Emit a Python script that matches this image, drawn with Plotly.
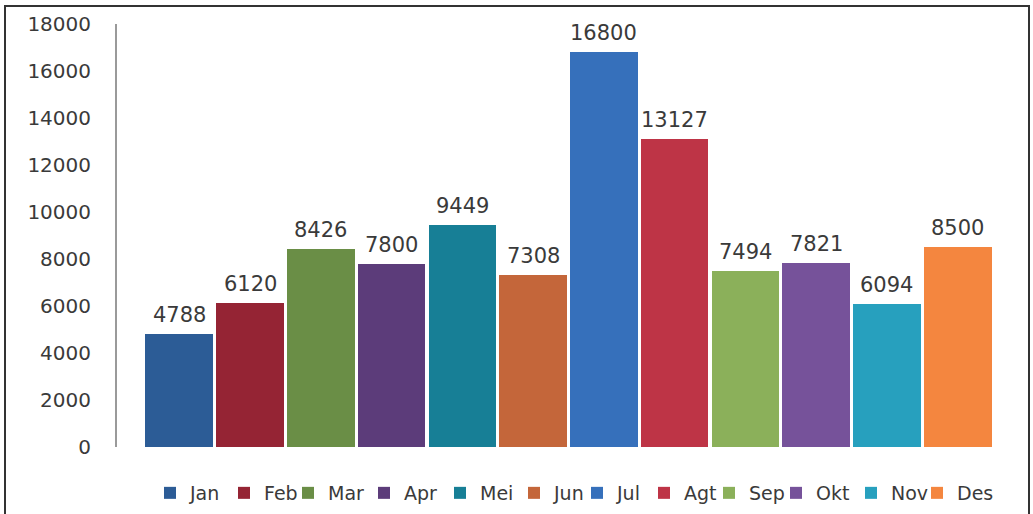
import plotly.graph_objects as go

# Monthly totals
months = ["Jan", "Feb", "Mar", "Apr", "Mei", "Jun",
          "Jul", "Agt", "Sep", "Okt", "Nov", "Des"]
values = [4788, 6120, 8426, 7800, 9449, 7308,
          16800, 13127, 7494, 7821, 6094, 8500]
colors = ["#2C5C96", "#952434", "#6A8E46", "#5C3C7A", "#177F96", "#C4663A",
          "#3670BB", "#BE3446", "#8BB05A", "#76529A", "#27A0BE", "#F4863F"]
y_ticks = [0, 2000, 4000, 6000, 8000, 10000, 12000, 14000, 16000, 18000]

# per-entry legend widths (px) so the legend row keeps its spacing
legend_widths = [29, 19, 31, 31, 29, 18, 22, 20, 22, 30, 21, 40]

FONT = "DejaVu Sans"
TEXT_COLOR = "#3a3a3a"

# page geometry (px) used for the plot area and the outer frame
W, H = 1033, 514
M_L, M_R, M_T, M_B = 117, 13, 24, 67
plot_w = W - M_L - M_R
plot_h = H - M_T - M_B


def px_x(p):
    return (p - M_L) / plot_w


def px_y(p):
    return (H - M_B - p) / plot_h


fig = go.Figure()
for i, (m, v, c, lw) in enumerate(zip(months, values, colors, legend_widths)):
    fig.add_trace(go.Bar(
        x=[i], y=[v], name=m, width=0.955,
        marker=dict(color=c, line=dict(width=0)),
        legendwidth=lw,
        hoverinfo="name+y",
    ))
    fig.add_annotation(
        x=i, y=v, text=str(v), showarrow=False,
        yanchor="bottom", yshift=5,
        font=dict(family=FONT, size=21, color=TEXT_COLOR),
    )

# outer frame around the whole chart
fig.add_shape(
    type="rect", xref="paper", yref="paper",
    x0=px_x(5), x1=px_x(1029), y0=px_y(530), y1=px_y(6),
    line=dict(color="#333333", width=2), fillcolor="rgba(0,0,0,0)",
    layer="above",
)

legend_w = sum(legend_widths) + 45 * len(legend_widths) + 4

fig.update_layout(
    width=W, height=H,
    margin=dict(l=M_L, r=M_R, t=M_T, b=M_B, autoexpand=False),
    paper_bgcolor="white", plot_bgcolor="white",
    barmode="overlay",
    bargap=0,
    showlegend=True,
    legend=dict(
        orientation="h",
        x=px_x(148 + legend_w / 2), xanchor="center",
        y=px_y(474), yanchor="top",
        font=dict(family=FONT, size=19, color=TEXT_COLOR),
        entrywidthmode="pixels",
        itemclick=False, itemdoubleclick=False,
        traceorder="normal",
    ),
    xaxis=dict(
        range=[-0.88, 11.88], showticklabels=False, showgrid=False,
        zeroline=False, showline=False, ticks="",
    ),
    yaxis=dict(
        range=[0, 18000], tickvals=y_ticks,
        ticktext=[str(t) for t in y_ticks],
        showgrid=False, zeroline=False,
        showline=True, linecolor="#9a9a9a", linewidth=2,
        ticks="", ticklabelstandoff=20,
        tickfont=dict(family=FONT, size=20, color=TEXT_COLOR),
    ),
)

fig.write_html("out.html")
